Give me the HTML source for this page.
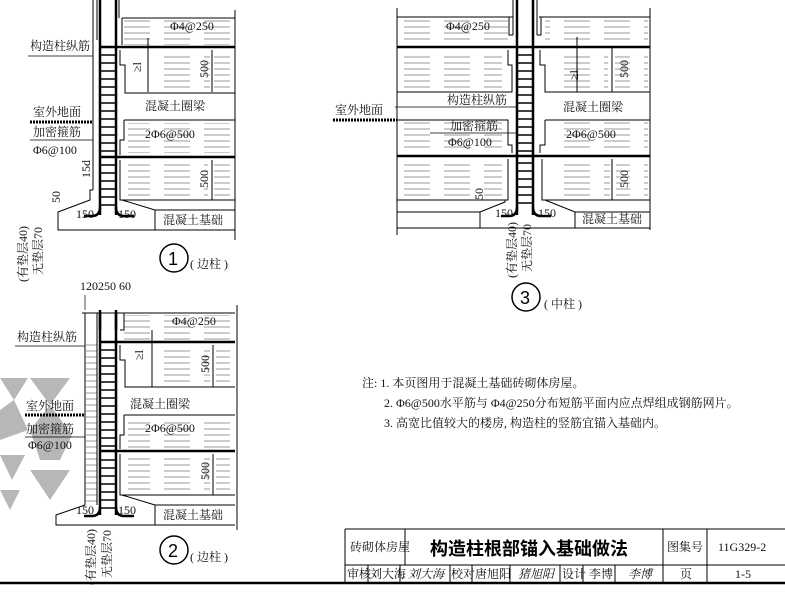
<!DOCTYPE html>
<html><head><meta charset="utf-8"><style>
html,body{margin:0;padding:0;background:#fff;}
svg{display:block;font-family:"Liberation Serif","Noto Serif CJK SC","Noto Sans CJK SC",serif;}
.t{font-size:12px;fill:#111;}
</style></head><body>
<svg width="785" height="592" viewBox="0 0 785 592" xmlns="http://www.w3.org/2000/svg">
<defs>
<pattern id="hat" width="40" height="6" patternUnits="userSpaceOnUse">
<line x1="4" y1="3" x2="30" y2="3" stroke="#999" stroke-width="1"/>
</pattern>
<g id="ladder">
<line x1="0" y1="0" x2="0" y2="215" stroke="#000" stroke-width="2.5"/>
<line x1="16" y1="0" x2="16" y2="215" stroke="#000" stroke-width="2.5"/>
<path d="M0 207 Q0 216 -8 216 L-16 216" fill="none" stroke="#000" stroke-width="2.5"/>
<path d="M16 207 Q16 216 24 216 L34 216" fill="none" stroke="#000" stroke-width="2.5"/>
</g>
</defs>

<!-- watermark -->
<g fill="#999" opacity="0.7">
<polygon points="0,378 28,378 14,400"/><polygon points="30,378 70,378 50,405"/>
<polygon points="0,410 14,400 28,430 0,440"/><polygon points="30,430 50,405 72,435 60,460 40,460"/>
<polygon points="0,455 25,455 12,480"/><polygon points="30,470 70,470 50,500"/>
<polygon points="0,490 20,490 10,510"/>
</g>

<!-- ============ DETAIL 1 ============ -->
<g>
<line x1="93" y1="0" x2="93" y2="190" stroke="#000"/>
<line x1="97" y1="0" x2="97" y2="40" stroke="#000"/>
<line x1="119" y1="0" x2="119" y2="18" stroke="#000"/>
<line x1="122" y1="18" x2="235" y2="18" stroke="#000"/>
<rect x="122" y="18" width="113" height="27" fill="url(#hat)"/>
<line x1="122" y1="18" x2="122" y2="45" stroke="#000"/>
<line x1="100" y1="47" x2="235" y2="47" stroke="#000" stroke-width="2.5"/>
<path d="M120 50 V65 H125 V93 H235" fill="none" stroke="#000"/>
<rect x="150" y="52" width="60" height="40" fill="url(#hat)"/>
<rect x="214" y="55" width="20" height="35" fill="url(#hat)"/>
<line x1="212" y1="50" x2="212" y2="92" stroke="#000"/>
<line x1="148" y1="38" x2="148" y2="92" stroke="#000"/>
<path d="M124 120 H235 M124 120 V140 H120 V155" fill="none" stroke="#000"/>
<rect x="128" y="123" width="105" height="30" fill="url(#hat)"/>
<line x1="100" y1="157" x2="235" y2="157" stroke="#000" stroke-width="2.5"/>
<path d="M120 160 V200 H235" fill="none" stroke="#000"/>
<rect x="128" y="162" width="80" height="36" fill="url(#hat)"/>
<rect x="214" y="162" width="20" height="36" fill="url(#hat)"/>
<line x1="212" y1="160" x2="212" y2="200" stroke="#000"/>
<line x1="235" y1="10" x2="235" y2="240" stroke="#000"/>
<line x1="30" y1="122" x2="93" y2="122" stroke="#000" stroke-width="3" stroke-dasharray="2 1"/>
<path d="M93 190 H90 V200 L58 212 V230 H235 M122 200 L155 210 V230 M155 210 H235" fill="none" stroke="#000"/>
<use href="#ladder" x="100" y="0"/>
<g stroke="#000" stroke-width="1.5">
<line x1="100" y1="55" x2="116" y2="55"/><line x1="100" y1="63" x2="116" y2="63"/><line x1="100" y1="71" x2="116" y2="71"/><line x1="100" y1="79" x2="116" y2="79"/><line x1="100" y1="87" x2="116" y2="87"/><line x1="100" y1="95" x2="116" y2="95"/><line x1="100" y1="103" x2="116" y2="103"/><line x1="100" y1="111" x2="116" y2="111"/><line x1="100" y1="119" x2="116" y2="119"/><line x1="100" y1="127" x2="116" y2="127"/><line x1="100" y1="135" x2="116" y2="135"/><line x1="100" y1="143" x2="116" y2="143"/><line x1="100" y1="151" x2="116" y2="151"/><line x1="100" y1="165" x2="116" y2="165"/><line x1="100" y1="173" x2="116" y2="173"/><line x1="100" y1="181" x2="116" y2="181"/><line x1="100" y1="189" x2="116" y2="189"/><line x1="100" y1="197" x2="116" y2="197"/><line x1="100" y1="205" x2="116" y2="205"/>
</g>
<line x1="28" y1="56" x2="93" y2="56" stroke="#000" stroke-width="0.8"/>
<text class="t" x="30" y="50">构造柱纵筋</text>
<text class="t" x="33" y="116">室外地面</text>
<text class="t" x="33" y="136">加密箍筋</text>
<line x1="30" y1="140" x2="93" y2="140" stroke="#000" stroke-width="0.8"/>
<text class="t" x="33" y="154">Φ6@100</text>
<text class="t" x="170" y="30">Φ4@250</text>
<text class="t" x="145" y="110">混凝土圈梁</text>
<text class="t" x="145" y="138">2Φ6@500</text>
<text class="t" x="163" y="224">混凝土基础</text>
<text class="t" x="76" y="218" font-size="11">150</text>
<text class="t" x="118" y="218" font-size="11">150</text>
<text class="t" transform="translate(208,78) rotate(-90)" font-size="11">500</text>
<text class="t" transform="translate(208,188) rotate(-90)" font-size="11">500</text>
<text class="t" transform="translate(90,178) rotate(-90)" font-size="11">15d</text>
<text class="t" transform="translate(60,203) rotate(-90)" font-size="10">50</text>
<text class="t" transform="translate(141,72) rotate(-90)" font-size="10">≥l</text>
<text class="t" transform="translate(27,282) rotate(-90)" font-size="12">(有垫层40)</text>
<text class="t" transform="translate(42,275) rotate(-90)" font-size="12">无垫层70</text>
<circle cx="174" cy="258" r="14" fill="none" stroke="#000" stroke-width="1.5"/>
<text x="168" y="265" font-size="18" font-family="Liberation Sans">1</text>
<text class="t" x="190" y="268" font-size="11">( 边柱 )</text>
</g>

<!-- ============ DETAIL 2 ============ -->
<g>
<text class="t" x="80" y="290" font-size="11">120250 60</text>
<line x1="85" y1="295" x2="85" y2="310" stroke="#000" stroke-width="0.7"/><line x1="97" y1="295" x2="97" y2="310" stroke="#000" stroke-width="0.7"/><line x1="119" y1="295" x2="119" y2="310" stroke="#000" stroke-width="0.7"/><line x1="124" y1="295" x2="124" y2="310" stroke="#000" stroke-width="0.7"/>
<line x1="82" y1="313" x2="122" y2="313" stroke="#000"/>
<line x1="85" y1="313" x2="85" y2="505" stroke="#000"/>
<rect x="86" y="340" width="11" height="165" fill="url(#hat)"/>
<line x1="97" y1="313" x2="97" y2="505" stroke="#000"/>
<line x1="122" y1="313" x2="235" y2="313" stroke="#000"/>
<rect x="124" y="315" width="111" height="27" fill="url(#hat)"/>
<path d="M124 313 V330 H120" fill="none" stroke="#000"/>
<line x1="100" y1="342" x2="235" y2="342" stroke="#000" stroke-width="2.5"/>
<path d="M120 345 V360 H125 V387 H235" fill="none" stroke="#000"/>
<rect x="150" y="347" width="60" height="38" fill="url(#hat)"/>
<rect x="216" y="347" width="18" height="38" fill="url(#hat)"/>
<line x1="213" y1="345" x2="213" y2="387" stroke="#000"/>
<line x1="152" y1="330" x2="152" y2="387" stroke="#000"/>
<path d="M124 415 H235 M124 415 V435 H120 V449" fill="none" stroke="#000"/>
<rect x="128" y="418" width="105" height="30" fill="url(#hat)"/>
<line x1="100" y1="451" x2="235" y2="451" stroke="#000" stroke-width="2.5"/>
<path d="M120 454 V495 H235" fill="none" stroke="#000"/>
<rect x="128" y="456" width="82" height="36" fill="url(#hat)"/>
<rect x="216" y="456" width="18" height="36" fill="url(#hat)"/>
<line x1="213" y1="454" x2="213" y2="495" stroke="#000"/>
<line x1="237" y1="305" x2="237" y2="530" stroke="#000"/>
<line x1="25" y1="415" x2="85" y2="415" stroke="#000" stroke-width="3" stroke-dasharray="2 1"/>
<path d="M85 505 L56 515 V525 H235 M122 495 L155 505 V525 M155 505 H235" fill="none" stroke="#000"/>
<use href="#ladder" x="100" y="300"/>
<rect x="95" y="290" width="30" height="20" fill="#fff"/>
<line x1="100" y1="313" x2="100" y2="330" stroke="#000" stroke-width="2.5"/><line x1="116" y1="313" x2="116" y2="330" stroke="#000" stroke-width="2.5"/>
<g stroke="#000" stroke-width="1.5">
<line x1="100" y1="350" x2="116" y2="350"/><line x1="100" y1="358" x2="116" y2="358"/><line x1="100" y1="366" x2="116" y2="366"/><line x1="100" y1="374" x2="116" y2="374"/><line x1="100" y1="382" x2="116" y2="382"/><line x1="100" y1="390" x2="116" y2="390"/><line x1="100" y1="398" x2="116" y2="398"/><line x1="100" y1="406" x2="116" y2="406"/><line x1="100" y1="414" x2="116" y2="414"/><line x1="100" y1="422" x2="116" y2="422"/><line x1="100" y1="430" x2="116" y2="430"/><line x1="100" y1="438" x2="116" y2="438"/><line x1="100" y1="446" x2="116" y2="446"/><line x1="100" y1="460" x2="116" y2="460"/><line x1="100" y1="468" x2="116" y2="468"/><line x1="100" y1="476" x2="116" y2="476"/><line x1="100" y1="484" x2="116" y2="484"/><line x1="100" y1="492" x2="116" y2="492"/><line x1="100" y1="500" x2="116" y2="500"/><line x1="100" y1="508" x2="116" y2="508"/>
</g>
<line x1="15" y1="346" x2="85" y2="346" stroke="#000" stroke-width="0.8"/>
<text class="t" x="17" y="341">构造柱纵筋</text>
<text class="t" x="26" y="410">室外地面</text>
<text class="t" x="26" y="433">加密箍筋</text>
<line x1="25" y1="437" x2="85" y2="437" stroke="#000" stroke-width="0.8"/>
<text class="t" x="28" y="449">Φ6@100</text>
<text class="t" x="172" y="325">Φ4@250</text>
<text class="t" x="130" y="408">混凝土圈梁</text>
<text class="t" x="145" y="432">2Φ6@500</text>
<text class="t" x="163" y="519">混凝土基础</text>
<text class="t" x="76" y="514" font-size="11">150</text>
<text class="t" x="118" y="514" font-size="11">150</text>
<text class="t" transform="translate(209,373) rotate(-90)" font-size="11">500</text>
<text class="t" transform="translate(209,480) rotate(-90)" font-size="11">500</text>
<text class="t" transform="translate(143,360) rotate(-90)" font-size="10">≥l</text>
<text class="t" transform="translate(95,585) rotate(-90)" font-size="12">(有垫层40)</text>
<text class="t" transform="translate(111,578) rotate(-90)" font-size="12">无垫层70</text>
<circle cx="174" cy="550" r="14" fill="none" stroke="#000" stroke-width="1.5"/>
<text x="168" y="557" font-size="18" font-family="Liberation Sans">2</text>
<text class="t" x="190" y="561" font-size="11">( 边柱 )</text>
</g>

<!-- ============ DETAIL 3 ============ -->
<g>
<line x1="397" y1="8" x2="397" y2="235" stroke="#000"/>
<line x1="397" y1="17" x2="513" y2="17" stroke="#000"/>
<line x1="539" y1="17" x2="650" y2="17" stroke="#000"/>
<line x1="513" y1="0" x2="513" y2="35" stroke="#000"/><line x1="537" y1="0" x2="537" y2="35" stroke="#000"/>
<rect x="400" y="20" width="108" height="24" fill="url(#hat)"/>
<rect x="545" y="20" width="103" height="24" fill="url(#hat)"/>
<path d="M513 35 H509 V17 M537 35 H541 V17" fill="none" stroke="#000"/>
<line x1="397" y1="47" x2="650" y2="47" stroke="#000" stroke-width="2.5"/>
<path d="M397 92 H512 V65 H508 V50 M540 50 V65 H545 V92 H650" fill="none" stroke="#000"/>
<rect x="402" y="52" width="100" height="38" fill="url(#hat)"/>
<rect x="560" y="52" width="48" height="38" fill="url(#hat)"/>
<rect x="615" y="52" width="33" height="38" fill="url(#hat)"/>
<line x1="577" y1="37" x2="577" y2="92" stroke="#000"/><line x1="612" y1="47" x2="612" y2="92" stroke="#000"/>
<path d="M397 120 H508 V145 H512 V153 M545 120 H650 M545 120 V145 H540 V153" fill="none" stroke="#000"/>
<rect x="402" y="122" width="100" height="30" fill="url(#hat)"/>
<rect x="555" y="122" width="93" height="30" fill="url(#hat)"/>
<line x1="397" y1="156" x2="650" y2="156" stroke="#000" stroke-width="2.5"/>
<path d="M508 159 V200 H397 M542 159 V200 H650" fill="none" stroke="#000"/>
<rect x="402" y="161" width="100" height="37" fill="url(#hat)"/>
<rect x="552" y="161" width="58" height="37" fill="url(#hat)"/>
<rect x="616" y="161" width="32" height="37" fill="url(#hat)"/>
<line x1="612" y1="159" x2="612" y2="200" stroke="#000"/>
<line x1="650" y1="8" x2="650" y2="230" stroke="#000"/>
<line x1="333" y1="120" x2="397" y2="120" stroke="#000" stroke-width="3" stroke-dasharray="2 1"/>
<path d="M397 212 H480 L505 202 V200 M480 212 V228 M397 228 H650 M545 200 L575 212 H650 M575 212 V228" fill="none" stroke="#000"/>
<use href="#ladder" x="517" y="0"/>
<g stroke="#000" stroke-width="1.5">
<line x1="517" y1="55" x2="533" y2="55"/><line x1="517" y1="63" x2="533" y2="63"/><line x1="517" y1="71" x2="533" y2="71"/><line x1="517" y1="79" x2="533" y2="79"/><line x1="517" y1="87" x2="533" y2="87"/><line x1="517" y1="95" x2="533" y2="95"/><line x1="517" y1="103" x2="533" y2="103"/><line x1="517" y1="111" x2="533" y2="111"/><line x1="517" y1="119" x2="533" y2="119"/><line x1="517" y1="127" x2="533" y2="127"/><line x1="517" y1="135" x2="533" y2="135"/><line x1="517" y1="143" x2="533" y2="143"/><line x1="517" y1="151" x2="533" y2="151"/><line x1="517" y1="163" x2="533" y2="163"/><line x1="517" y1="171" x2="533" y2="171"/><line x1="517" y1="179" x2="533" y2="179"/><line x1="517" y1="187" x2="533" y2="187"/><line x1="517" y1="195" x2="533" y2="195"/><line x1="517" y1="203" x2="533" y2="203"/>
</g>
<text class="t" x="446" y="30">Φ4@250</text>
<text class="t" x="447" y="104">构造柱纵筋</text>
<line x1="395" y1="107" x2="517" y2="107" stroke="#000" stroke-width="0.8"/>
<text class="t" x="335" y="114">室外地面</text>
<text class="t" x="450" y="130">加密箍筋</text>
<line x1="430" y1="133" x2="517" y2="133" stroke="#000" stroke-width="0.8"/>
<text class="t" x="448" y="146">Φ6@100</text>
<text class="t" x="563" y="111">混凝土圈梁</text>
<text class="t" x="566" y="138">2Φ6@500</text>
<text class="t" x="582" y="223">混凝土基础</text>
<text class="t" x="495" y="217" font-size="11">150</text>
<text class="t" x="538" y="217" font-size="11">150</text>
<text class="t" transform="translate(628,78) rotate(-90)" font-size="11">500</text>
<text class="t" transform="translate(628,188) rotate(-90)" font-size="11">500</text>
<text class="t" transform="translate(578,80) rotate(-90)" font-size="10">≥l</text>
<text class="t" transform="translate(483,200) rotate(-90)" font-size="10">50</text>
<text class="t" transform="translate(516,278) rotate(-90)" font-size="12">(有垫层40)</text>
<text class="t" transform="translate(531,272) rotate(-90)" font-size="12">无垫层70</text>
<circle cx="526" cy="297" r="14" fill="none" stroke="#000" stroke-width="1.5"/>
<text x="520" y="304" font-size="18" font-family="Liberation Sans">3</text>
<text class="t" x="544" y="308" font-size="11">( 中柱 )</text>
</g>

<!-- notes -->
<text class="t" x="362" y="387" font-size="10.5">注: 1. 本页图用于混凝土基础砖砌体房屋。</text>
<text class="t" x="384" y="407" font-size="10.5">2. Φ6@500水平筋与 Φ4@250分布短筋平面内应点焊组成钢筋网片。</text>
<text class="t" x="384" y="427" font-size="10.5">3. 高宽比值较大的楼房, 构造柱的竖筋宜锚入基础内。</text>

<!-- title block -->
<g stroke="#000" fill="none">
<line x1="345" y1="529" x2="785" y2="529"/>
<line x1="345" y1="529" x2="345" y2="582"/>
<line x1="345" y1="565" x2="785" y2="565"/>
<line x1="405" y1="529" x2="405" y2="565"/>
<line x1="663" y1="529" x2="663" y2="582"/>
<line x1="707" y1="529" x2="707" y2="582"/>
<line x1="0" y1="583" x2="785" y2="583" stroke-width="2.5"/>
<line x1="368" y1="565" x2="368" y2="582"/><line x1="400" y1="565" x2="400" y2="582"/><line x1="450" y1="565" x2="450" y2="582"/><line x1="472" y1="565" x2="472" y2="582"/><line x1="510" y1="565" x2="510" y2="582"/><line x1="560" y1="565" x2="560" y2="582"/><line x1="583" y1="565" x2="583" y2="582"/><line x1="615" y1="565" x2="615" y2="582"/>
</g>
<text class="t" x="350" y="551" font-size="10.5">砖砌体房屋</text>
<text x="430" y="555" font-size="18" font-weight="bold" font-family="Liberation Sans,Noto Sans CJK SC,sans-serif">构造柱根部锚入基础做法</text>
<text class="t" x="667" y="551" font-size="10.5">图集号</text>
<text class="t" x="718" y="551" font-size="12">11G329-2</text>
<text class="t" x="347" y="578" font-size="10">审核</text>
<text class="t" x="370" y="578" font-size="10">刘大海</text>
<text class="t" x="408" y="578" font-size="10" font-style="italic">刘大海</text>
<text class="t" x="451" y="578" font-size="10">校对</text>
<text class="t" x="475" y="578" font-size="10">唐旭阳</text>
<text class="t" x="518" y="578" font-size="10" font-style="italic">猪旭阳</text>
<text class="t" x="562" y="578" font-size="10">设计</text>
<text class="t" x="589" y="578" font-size="10">李博</text>
<text class="t" x="628" y="578" font-size="10" font-style="italic">李博</text>
<text class="t" x="680" y="578" font-size="10">页</text>
<text class="t" x="735" y="578" font-size="11">1-5</text>
</svg>
</body></html>
